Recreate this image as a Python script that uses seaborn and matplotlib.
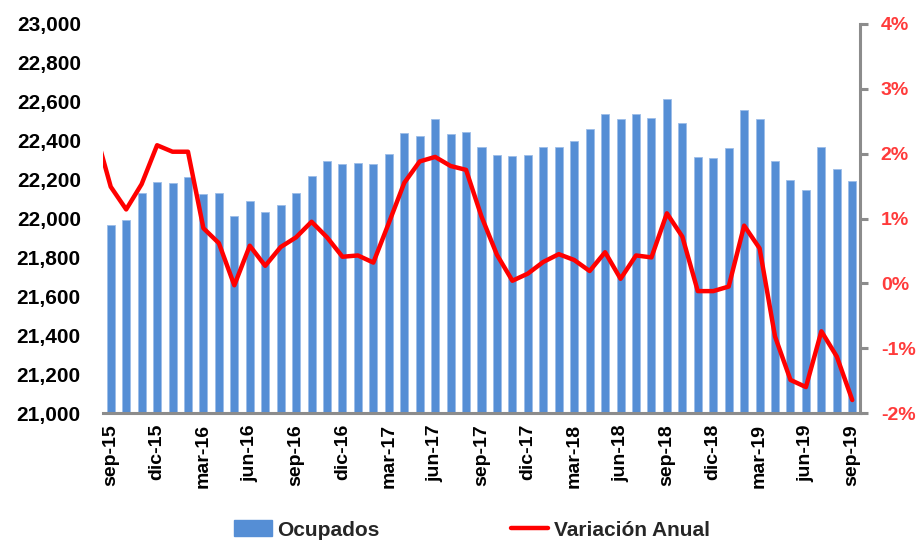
import matplotlib
matplotlib.use("Agg")
import matplotlib.pyplot as plt
import matplotlib.ticker as mticker
from matplotlib.patches import Patch
from matplotlib.lines import Line2D
import seaborn as sns
import pandas as pd
import numpy as np

sns.set_theme(style="white")
plt.rcParams["font.family"] = ["Liberation Sans", "DejaVu Sans"]

# Monthly categories, sep-15 .. sep-19
months = [
    "sep-15", "oct-15", "nov-15", "dic-15", "ene-16", "feb-16", "mar-16", "abr-16",
    "may-16", "jun-16", "jul-16", "ago-16", "sep-16", "oct-16", "nov-16", "dic-16",
    "ene-17", "feb-17", "mar-17", "abr-17", "may-17", "jun-17", "jul-17", "ago-17",
    "sep-17", "oct-17", "nov-17", "dic-17", "ene-18", "feb-18", "mar-18", "abr-18",
    "may-18", "jun-18", "jul-18", "ago-18", "sep-18", "oct-18", "nov-18", "dic-18",
    "ene-19", "feb-19", "mar-19", "abr-19", "may-19", "jun-19", "jul-19", "ago-19",
    "sep-19",
]

# Employed persons (thousands)
ocupados = [
    21965, 21994, 22130, 22188, 22183, 22212, 22124, 22130,
    22015, 22088, 22035, 22070, 22130, 22219, 22296, 22280,
    22285, 22280, 22330, 22440, 22424, 22510, 22435, 22443,
    22366, 22327, 22321, 22327, 22366, 22366, 22399, 22459,
    22537, 22510, 22537, 22515, 22613, 22489, 22316, 22311,
    22361, 22558, 22510, 22296, 22198, 22148, 22366, 22253,
    22193,
]

# Year-on-year change (%), starting one month earlier (ago-15)
variacion = [
    2.35,
    1.49, 1.14, 1.53, 2.13, 2.03, 2.03, 0.85, 0.62,
    -0.03, 0.58, 0.27, 0.56, 0.71, 0.95, 0.71, 0.41,
    0.43, 0.32, 0.93, 1.55, 1.88, 1.95, 1.81, 1.75,
    1.03, 0.44, 0.04, 0.15, 0.33, 0.45, 0.36, 0.19,
    0.48, 0.07, 0.43, 0.40, 1.08, 0.72, -0.12, -0.12,
    -0.05, 0.89, 0.54, -0.82, -1.49, -1.60, -0.74, -1.13,
    -1.80,
]

tick_labels = months[::3]

bar_color = "#558ED5"
line_color = "#FF0000"
axis_gray = "#8C8C8C"

fig = plt.figure(figsize=(9.2, 5.42), dpi=100)
ax = fig.add_axes([103 / 920, 1 - 413 / 542, (860 - 103) / 920, (413 - 24) / 542])

df_bars = pd.DataFrame({"mes": months, "ocupados": ocupados})
sns.barplot(data=df_bars, x="mes", y="ocupados", color=bar_color, width=0.52,
            saturation=1, ax=ax, edgecolor="#9DBDE8", linewidth=0.6)
ax.set_ylim(21000, 23000)
ax.set_yticks(np.arange(21000, 23001, 200))
ax.yaxis.set_major_formatter(mticker.FuncFormatter(lambda v, p: f"{int(v):,}"))
ax.set_xlabel("")
ax.set_ylabel("")

ax2 = ax.twinx()
df_line = pd.DataFrame({"pos": np.arange(-1, len(months)), "var": variacion})
sns.lineplot(data=df_line, x="pos", y="var", color=line_color, linewidth=3.2,
             ax=ax2, sort=False)
ax2.set_ylim(-2, 4)
ax2.set_yticks(np.arange(-2, 5, 1))
ax2.yaxis.set_major_formatter(mticker.FuncFormatter(lambda v, p: f"{int(round(v))}%"))
ax2.set_ylabel("")
ax2.set_xlabel("")

ax.set_xlim(-0.5, len(months) - 0.5)
ax2.set_xlim(-0.5, len(months) - 0.5)

ax.set_xticks(np.arange(0, len(months), 3))
ax.set_xticklabels(tick_labels, rotation=90, fontweight="bold", fontsize=14, color="black")

for a in (ax, ax2):
    for s in ("top", "left", "right", "bottom"):
        a.spines[s].set_visible(False)
    a.grid(False)
    a.set_facecolor("none")

ax.spines["bottom"].set_visible(True)
ax.spines["bottom"].set_color(axis_gray)
ax.spines["bottom"].set_linewidth(2.2)
ax2.spines["right"].set_visible(True)
ax2.spines["right"].set_color(axis_gray)
ax2.spines["right"].set_linewidth(2.2)

ax.tick_params(axis="y", length=0, pad=16, labelsize=15, labelcolor="black")
ax.tick_params(axis="x", length=0, pad=8)
for lab in ax.get_yticklabels():
    lab.set_fontweight("bold")

ax2.tick_params(axis="y", direction="out", length=6, width=2.2, color=axis_gray,
                pad=9, labelsize=14, labelcolor="#FF3B3B")
for lab in ax2.get_yticklabels():
    lab.set_fontweight("bold")

handles = [
    Patch(facecolor=bar_color, edgecolor=bar_color),
    Line2D([0], [0], color=line_color, linewidth=3.2),
]
fig.legend(handles, ["Ocupados", "Variación Anual"], loc="center",
           bbox_to_anchor=(472 / 920, 1 - 530 / 542), ncol=2, frameon=False,
           prop={"weight": "bold", "size": 15},
           handlelength=1.8, handleheight=0.8, handletextpad=0.25, columnspacing=6.3)

fig.savefig("out.png", dpi=100, facecolor="white")
